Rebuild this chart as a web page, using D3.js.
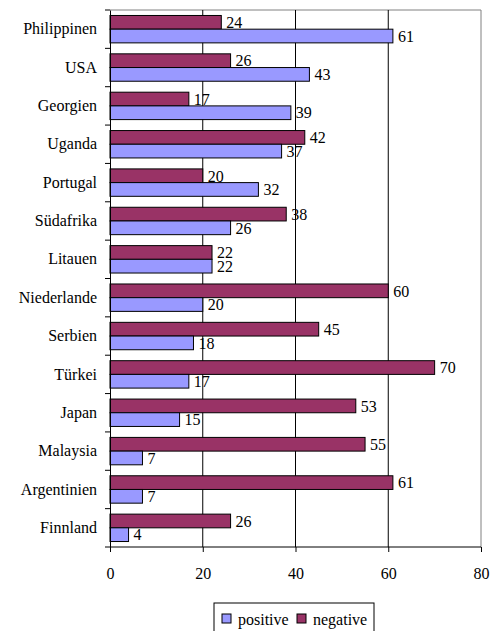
<!DOCTYPE html>
<html>
<head>
<meta charset="utf-8">
<script src="https://cdn.jsdelivr.net/npm/d3@7"></script>
<style>
  body { margin: 0; background: #fff; }
  svg text { font-family: "Liberation Serif", "DejaVu Serif", serif !important; font-size: 16px !important; fill: #000; }
</style>
</head>
<body>
<script>
var countries = ["Philippinen", "USA", "Georgien", "Uganda", "Portugal", "Südafrika", "Litauen",
                 "Niederlande", "Serbien", "Türkei", "Japan", "Malaysia", "Argentinien", "Finnland"];
var positive = [61, 43, 39, 37, 32, 26, 22, 20, 18, 17, 15, 7, 7, 4];
var negative = [24, 26, 17, 42, 20, 38, 22, 60, 45, 70, 53, 55, 61, 26];
var xTicks = [0, 20, 40, 60, 80];
var seriesNames = ["positive", "negative"];
var colors = { positive: "#9999FF", negative: "#993366" };

var rows = countries.map(function (c, i) {
  return { name: c, positive: positive[i], negative: negative[i] };
});

var svg = d3.select("body").append("svg")
  .attr("width", 491)
  .attr("height", 631);

var plotL = 110, plotR = 481, plotT = 10, plotB = 547;

var x = d3.scaleLinear().domain([0, 80]).range([plotL, plotR]);
var y = d3.scaleBand().domain(countries).range([plotT, plotB]).paddingInner(0).paddingOuter(0);
var inner = d3.scaleBand().domain(["negative", "positive"]).range([0, y.bandwidth()]).paddingOuter(0.4);

// frame top/right
svg.append("path")
  .attr("d", "M" + plotL + "," + plotT + "H" + plotR + "V" + plotB)
  .attr("fill", "none").attr("stroke", "#808080").attr("stroke-width", 1);

// gridlines
svg.selectAll("line.grid")
  .data([20, 40, 60])
  .enter().append("line")
  .attr("x1", function (d) { return x(d); })
  .attr("x2", function (d) { return x(d); })
  .attr("y1", plotT).attr("y2", plotB)
  .attr("stroke", "#000").attr("stroke-width", 1);

// bars
var groups = svg.selectAll("g.row")
  .data(rows)
  .enter().append("g")
  .attr("transform", function (d) { return "translate(0," + y(d.name) + ")"; });

["negative", "positive"].forEach(function (s) {
  groups.append("rect")
    .attr("x", x(0))
    .attr("y", inner(s))
    .attr("width", function (d) { return x(d[s]) - x(0); })
    .attr("height", inner.bandwidth())
    .attr("fill", colors[s])
    .attr("stroke", "#000")
    .attr("stroke-width", 1);

  groups.append("text")
    .attr("x", function (d) { return x(d[s]) + 5; })
    .attr("y", inner(s) + inner.bandwidth() / 2)
    .attr("dy", "0.36em")
    .text(function (d) { return d[s]; });
});

// y axis
var yAxis = d3.axisLeft(y).tickSize(0).tickPadding(13);
var ga = svg.append("g").attr("transform", "translate(" + plotL + ",0)").call(yAxis);
ga.select(".domain").attr("stroke", "#000");
svg.selectAll("line.ytick")
  .data(d3.range(countries.length + 1))
  .enter().append("line")
  .attr("x1", plotL - 5).attr("x2", plotL)
  .attr("y1", function (i) { return plotT + i * y.step(); })
  .attr("y2", function (i) { return plotT + i * y.step(); })
  .attr("stroke", "#000");

// x axis
var xAxis = d3.axisBottom(x).tickValues(xTicks).tickSize(5).tickPadding(16);
var gx = svg.append("g").attr("transform", "translate(0," + plotB + ")").call(xAxis);
gx.select(".domain").attr("d", "M" + plotL + ",0H" + plotR);

// legend
var lg = svg.append("g").attr("transform", "translate(214,603)");
lg.append("rect").attr("width", 160).attr("height", 30)
  .attr("fill", "#fff").attr("stroke", "#000");
var items = lg.selectAll("g.item")
  .data(seriesNames)
  .enter().append("g")
  .attr("transform", function (d, i) { return "translate(" + (8 + i * 75) + ",11)"; });
items.append("rect").attr("width", 9).attr("height", 9)
  .attr("fill", function (d) { return colors[d]; })
  .attr("stroke", "#000");
items.append("text").attr("x", 16).attr("y", 5).attr("dy", "0.35em")
  .text(function (d) { return d; });
</script>
</body>
</html>
